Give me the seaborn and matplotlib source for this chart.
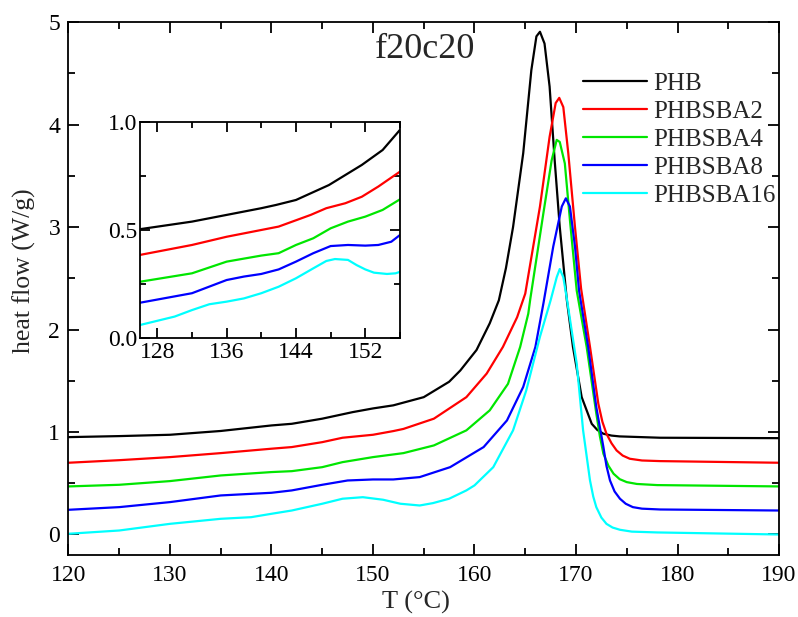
import numpy as np
import pandas as pd
import matplotlib
matplotlib.use("Agg")
import matplotlib.pyplot as plt
import seaborn as sns
from matplotlib.ticker import MultipleLocator, FormatStrFormatter

# series names and colours
names = ["PHB", "PHBSBA2", "PHBSBA4", "PHBSBA8", "PHBSBA16"]
colors = ["#000000", "#ff0000", "#00e600", "#0000ff", "#00ffff"]

# main plot: temperature (C) and heat flow (W/g)
t_phb = [120, 125, 130, 135, 140, 142, 145, 148, 150, 152, 155, 156, 157.5, 158.6, 160.2, 161.5,
         162.4, 163.1, 163.8, 164.8, 165.6, 166.1, 166.45, 166.9, 167.4, 167.9, 168.4, 169.1,
         169.7, 170.56, 171.55, 172.1, 172.7, 173.5, 174.3, 178.3, 190]
y_phb = [0.95, 0.96, 0.973, 1.01, 1.064, 1.08, 1.13, 1.194, 1.23, 1.26, 1.34, 1.40, 1.49, 1.60,
         1.80, 2.06, 2.285, 2.6, 3.0, 3.72, 4.53, 4.86, 4.905, 4.79, 4.37, 3.65, 3.0, 2.285,
         1.83, 1.34, 1.08, 1.02, 0.983, 0.965, 0.957, 0.944, 0.94]

t_sba2 = [120, 125, 130, 135, 140, 142, 145, 147, 150, 152, 153, 156, 159.2, 161.2, 162.8, 164.2,
          165.0, 166.45, 167.4, 168.0, 168.35, 168.75, 169.24, 169.9, 170.5, 171.38, 172.2, 172.6,
          173.0, 173.5, 174.0, 174.6, 175.3, 176.5, 178.3, 190]
y_sba2 = [0.70, 0.725, 0.755, 0.794, 0.837, 0.853, 0.901, 0.944, 0.973, 1.009, 1.03, 1.13, 1.34,
          1.57, 1.83, 2.12, 2.35, 3.2, 3.88, 4.21, 4.26, 4.17, 3.72, 3.0, 2.4, 1.83, 1.276, 1.10,
          0.983, 0.89, 0.82, 0.77, 0.739, 0.722, 0.716, 0.70]

t_sba4 = [120, 125, 130, 135, 140, 142, 145, 147, 150, 152, 153, 156, 159.2, 161.5, 163.3, 164.5,
          165.3, 165.5, 166.78, 167.6, 168.1, 168.4, 168.9, 169.4, 170.07, 171.05, 172.0, 172.35,
          172.7, 173.2, 173.7, 174.3, 175.0, 176, 178, 190]
y_sba4 = [0.469, 0.485, 0.521, 0.576, 0.609, 0.618, 0.657, 0.706, 0.755, 0.781, 0.794, 0.869,
          1.016, 1.211, 1.47, 1.83, 2.155, 2.3, 3.13, 3.65, 3.85, 3.83, 3.62, 3.07, 2.38, 1.83,
          1.18, 0.96, 0.788, 0.67, 0.593, 0.54, 0.511, 0.493, 0.482, 0.469]

t_sba8 = [120, 125, 130, 135, 140, 142, 145, 147.5, 150, 152, 154.6, 157.6, 160.9, 163.2, 164.8,
          166.0, 166.8, 167.76, 168.6, 169.0, 169.4, 169.9, 170.3, 171.2, 172.0, 172.7, 173.0,
          173.35, 173.8, 174.33, 174.9, 175.6, 176.5, 178.3, 190]
y_sba8 = [0.241, 0.267, 0.316, 0.381, 0.407, 0.43, 0.485, 0.527, 0.537, 0.537, 0.56, 0.657, 0.853,
          1.113, 1.44, 1.83, 2.26, 2.81, 3.2, 3.28, 3.2, 2.81, 2.38, 1.83, 1.243, 0.853, 0.67,
          0.527, 0.42, 0.349, 0.30, 0.267, 0.252, 0.244, 0.234]

t_sba16 = [120, 125, 130, 135, 138, 140, 142, 145, 147, 149, 151, 152.7, 154.6, 155.9, 157.5,
           159.2, 160, 161.85, 163.8, 165.1, 166.45, 167.5, 168.1, 168.4, 168.75, 169.1, 170.07,
           170.7, 171.38, 171.7, 172.0, 172.5, 173.0, 173.6, 174.33, 175.5, 178, 190]
y_sba16 = [0.007, 0.039, 0.104, 0.153, 0.169, 0.202, 0.234, 0.30, 0.349, 0.364, 0.339, 0.30, 0.283,
           0.306, 0.349, 0.43, 0.479, 0.657, 1.016, 1.406, 1.93, 2.285, 2.51, 2.59, 2.51, 2.3,
           1.667, 1.016, 0.527, 0.37, 0.267, 0.165, 0.104, 0.068, 0.046, 0.028, 0.02, 0.0]

# inset (126-156 C)
ti_phb = [126, 132, 136, 140, 141.7, 144, 147.8, 151.6, 154, 156]
yi_phb = [0.503, 0.538, 0.569, 0.60, 0.615, 0.638, 0.707, 0.800, 0.869, 0.962]
ti_sba2 = [126, 132, 136, 142, 145.7, 147.5, 149.7, 151.6, 153.5, 156]
yi_sba2 = [0.384, 0.430, 0.468, 0.515, 0.569, 0.600, 0.623, 0.653, 0.700, 0.769]
ti_sba4 = [126, 132, 136, 140, 142, 144, 146, 148, 150, 152, 154, 156]
yi_sba4 = [0.260, 0.299, 0.353, 0.381, 0.392, 0.430, 0.461, 0.507, 0.538, 0.561, 0.592, 0.641]
ti_sba8 = [126, 132, 136, 138, 140, 142, 144, 146, 148, 150, 152, 153.5, 155, 156]
yi_sba8 = [0.163, 0.207, 0.268, 0.284, 0.296, 0.317, 0.353, 0.392, 0.425, 0.430, 0.427, 0.430,
           0.445, 0.476]
ti_sba16 = [126, 130, 132, 134, 136, 138, 140, 142, 144, 146, 147.5, 148.5, 150, 151, 152, 153,
            154.5, 155.5, 156]
yi_sba16 = [0.060, 0.099, 0.129, 0.156, 0.168, 0.183, 0.207, 0.237, 0.276, 0.322, 0.356, 0.365,
            0.361, 0.337, 0.317, 0.302, 0.296, 0.299, 0.306]

main_t = [t_phb, t_sba2, t_sba4, t_sba8, t_sba16]
main_y = [y_phb, y_sba2, y_sba4, y_sba8, y_sba16]
ins_t = [ti_phb, ti_sba2, ti_sba4, ti_sba8, ti_sba16]
ins_y = [yi_phb, yi_sba2, yi_sba4, yi_sba8, yi_sba16]

sns.set_style("ticks")
plt.rcParams["font.family"] = ["Liberation Serif", "DejaVu Serif"]


def style_axes(ax, size, major_len, minor_len, pad):
    for s in ax.spines.values():
        s.set_linewidth(1.3)
        s.set_color("black")
    ax.tick_params(which="both", direction="in", top=True, right=True, colors="black",
                   width=1.3, labelsize=size, pad=pad)
    ax.tick_params(which="major", length=major_len)
    ax.tick_params(which="minor", length=minor_len)


fig = plt.figure(figsize=(7.98, 6.17), dpi=100)
ax = fig.add_axes([0.0858, 0.1005, 0.8904, 0.8638])

for name, c, t, y in zip(names, colors, main_t, main_y):
    sns.lineplot(x=t, y=y, ax=ax, color=c, lw=1.6, sort=False, label=name)

ax.set_xlim(120, 190)
ax.set_ylim(-0.2, 5.0)
ax.xaxis.set_major_locator(MultipleLocator(10))
ax.xaxis.set_minor_locator(MultipleLocator(5))
ax.yaxis.set_major_locator(MultipleLocator(1))
ax.yaxis.set_minor_locator(MultipleLocator(0.5))
style_axes(ax, 17, 8, 5, 7)
ax.tick_params(axis="y", pad=6)
ax.set_xlabel("T (°C)", fontsize=19)
ax.set_ylabel("heat flow (W/g)", fontsize=18.5)
ax.xaxis.set_label_coords(0.489, -0.068)
ax.yaxis.set_label_coords(-0.046, 0.533)
ax.text(155.1, 4.73, "f20c20", fontsize=26, ha="center", va="center")

ax.legend(loc="upper left", bbox_to_anchor=(0.724, 0.905), frameon=False, fontsize=18,
          handlelength=2.55, handletextpad=0.25, labelspacing=0.22, borderpad=0,
          borderaxespad=0)

# inset
axi = fig.add_axes([0.1754, 0.4522, 0.3258, 0.3506])
for c, t, y in zip(colors, ins_t, ins_y):
    sns.lineplot(x=t, y=y, ax=axi, color=c, lw=1.6, sort=False)
axi.set_xlim(126, 156)
axi.set_ylim(0, 1.0)
axi.xaxis.set_major_locator(MultipleLocator(8))
axi.xaxis.set_minor_locator(MultipleLocator(4))
axi.yaxis.set_major_locator(MultipleLocator(0.5))
axi.yaxis.set_minor_locator(MultipleLocator(0.25))
axi.yaxis.set_major_formatter(FormatStrFormatter("%.1f"))
axi.set_xticks([128, 136, 144, 152])
style_axes(axi, 17, 7, 4, 3)
axi.tick_params(axis="y", pad=2)
axi.set_xlabel("")
axi.set_ylabel("")

fig.savefig("out.png", dpi=100)
